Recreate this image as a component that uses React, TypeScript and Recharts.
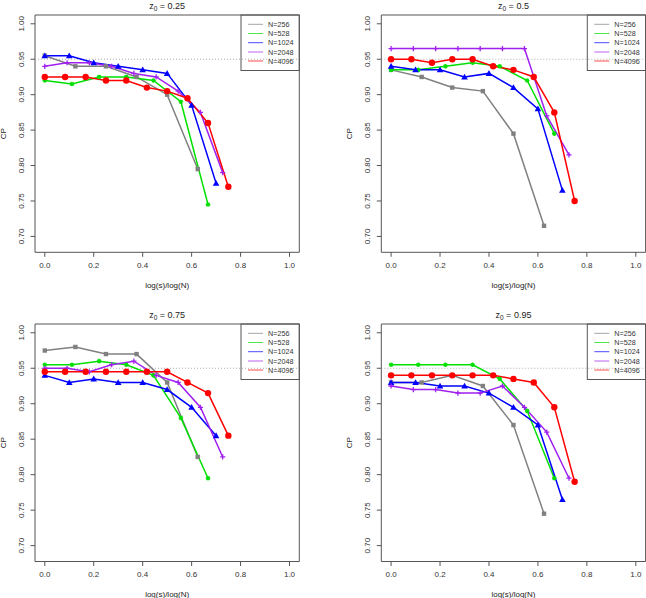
import React from "react";
import { LineChart, Line, XAxis, YAxis, ReferenceArea, ReferenceLine } from "recharts";

const FONT = "'Liberation Sans', Arial, Helvetica, sans-serif";

// x positions: log(s)/log(N)
const X256 = [0, 0.125, 0.25, 0.375, 0.5, 0.625];
const X528 = [0, 0.111, 0.222, 0.333, 0.444, 0.556, 0.667];
const X1024 = [0, 0.1, 0.2, 0.3, 0.4, 0.5, 0.6, 0.7];
const X2048 = [0, 0.091, 0.182, 0.273, 0.364, 0.455, 0.545, 0.636, 0.727];
const X4096 = [0, 0.083, 0.167, 0.25, 0.333, 0.417, 0.5, 0.583, 0.667, 0.75];

// z0 = 0.25
const P1_256 = [0.955, 0.94, 0.94, 0.925, 0.9, 0.795];
const P1_528 = [0.92, 0.915, 0.925, 0.925, 0.92, 0.89, 0.745];
const P1_1024 = [0.955, 0.955, 0.945, 0.94, 0.935, 0.93, 0.885, 0.775];
const P1_2048 = [0.94, 0.945, 0.945, 0.94, 0.93, 0.925, 0.905, 0.875, 0.79];
const P1_4096 = [0.925, 0.925, 0.925, 0.92, 0.92, 0.91, 0.905, 0.895, 0.86, 0.77];

// z0 = 0.5
const P2_256 = [0.935, 0.925, 0.91, 0.905, 0.845, 0.715];
const P2_528 = [0.935, 0.935, 0.94, 0.945, 0.94, 0.92, 0.845];
const P2_1024 = [0.94, 0.935, 0.935, 0.925, 0.93, 0.91, 0.88, 0.765];
const P2_2048 = [0.965, 0.965, 0.965, 0.965, 0.965, 0.965, 0.965, 0.87, 0.815];
const P2_4096 = [0.95, 0.95, 0.945, 0.95, 0.95, 0.94, 0.935, 0.925, 0.875, 0.75];

// z0 = 0.75
const P3_256 = [0.975, 0.98, 0.97, 0.97, 0.93, 0.825];
const P3_528 = [0.955, 0.955, 0.96, 0.955, 0.94, 0.88, 0.795];
const P3_1024 = [0.94, 0.93, 0.935, 0.93, 0.93, 0.92, 0.895, 0.855];
const P3_2048 = [0.95, 0.95, 0.945, 0.955, 0.96, 0.94, 0.93, 0.895, 0.825];
const P3_4096 = [0.945, 0.945, 0.945, 0.945, 0.945, 0.945, 0.945, 0.93, 0.915, 0.855];

// z0 = 0.95
const P4_256 = [0.93, 0.93, 0.94, 0.925, 0.87, 0.745];
const P4_528 = [0.955, 0.955, 0.955, 0.955, 0.935, 0.89, 0.795];
const P4_1024 = [0.93, 0.93, 0.925, 0.925, 0.915, 0.895, 0.87, 0.765];
const P4_2048 = [0.925, 0.92, 0.92, 0.915, 0.915, 0.925, 0.895, 0.86, 0.795];
const P4_4096 = [0.94, 0.94, 0.94, 0.94, 0.94, 0.94, 0.935, 0.93, 0.895, 0.79];

const SERIES_NAMES = ["N=256", "N=528", "N=1024", "N=2048", "N=4096"];
const SERIES_COLORS = ["#808080", "#00e000", "#0000ff", "#a020f0", "#ff0000"];
const SERIES_MARKERS = ["square", "asterisk", "triangle", "plus", "circle"];
const SERIES_X = [X256, X528, X1024, X2048, X4096];

const X_TICKS = [0, 0.2, 0.4, 0.6, 0.8, 1.0];
const Y_TICKS = [0.7, 0.75, 0.8, 0.85, 0.9, 0.95, 1.0];
const X_DOMAIN: [number, number] = [-0.04, 1.04];
const Y_DOMAIN: [number, number] = [0.6776, 1.0124];

const PANELS = [
  { title: "0.25", values: [P1_256, P1_528, P1_1024, P1_2048, P1_4096], left: 0, top: 0, plot: { top: 15, left: 35, right: 23.7, bottom: 46.7 } },
  { title: "0.5", values: [P2_256, P2_528, P2_1024, P2_2048, P2_4096], left: 323, top: 0, plot: { top: 15, left: 58.3, right: 0.4, bottom: 46.7 } },
  { title: "0.75", values: [P3_256, P3_528, P3_1024, P3_2048, P3_4096], left: 0, top: 299, plot: { top: 25, left: 35, right: 23.7, bottom: 36.5 } },
  { title: "0.95", values: [P4_256, P4_528, P4_1024, P4_2048, P4_4096], left: 323, top: 299, plot: { top: 25, left: 58.3, right: 0.4, bottom: 36.5 } },
];

const W = 323;
const H = 299;
const AXW = 20;
const AXH = 20;

const makeDot = (kind: string, color: string) => (p: any) => {
  const { cx, cy, index } = p;
  if (cx == null || cy == null || isNaN(cx) || isNaN(cy)) return <g key={`d${index}`} />;
  if (kind === "square") {
    return <rect key={`d${index}`} x={cx - 2.2} y={cy - 2.2} width={4.4} height={4.4} fill={color} />;
  }
  if (kind === "circle") {
    return <circle key={`d${index}`} cx={cx} cy={cy} r={3.2} fill={color} />;
  }
  if (kind === "triangle") {
    const s = 3.3;
    return <path key={`d${index}`} d={`M${cx},${cy - s} L${cx + s},${cy + s * 0.75} L${cx - s},${cy + s * 0.75} Z`} fill={color} />;
  }
  if (kind === "plus") {
    const s = 2.6;
    return <path key={`d${index}`} d={`M${cx - s},${cy} L${cx + s},${cy} M${cx},${cy - s} L${cx},${cy + s}`} stroke={color} strokeWidth={1.3} fill="none" />;
  }
  const s = 2.3;
  const d = s * 0.72;
  return (
    <path
      key={`d${index}`}
      d={`M${cx - s},${cy} L${cx + s},${cy} M${cx},${cy - s} L${cx},${cy + s} M${cx - d},${cy - d} L${cx + d},${cy + d} M${cx - d},${cy + d} L${cx + d},${cy - d}`}
      stroke={color}
      strokeWidth={1.2}
      fill="none"
    />
  );
};

function Panel({ panel }: { panel: (typeof PANELS)[number] }) {
  const pm = panel.plot;
  const plotLeft = pm.left;
  const plotRight = W - pm.right;
  const plotTop = pm.top;
  const plotBottom = H - pm.bottom;
  const cx = (plotLeft + plotRight) / 2;
  const cy = (plotTop + plotBottom) / 2;
  const margin = { top: pm.top, right: pm.right, left: pm.left - AXW, bottom: pm.bottom - AXH };

  const XTick = (p: any) => (
    <g>
      <line x1={p.x} x2={p.x} y1={plotBottom} y2={plotBottom + 4.5} stroke="#555" strokeWidth={1} />
      <text x={p.x} y={plotBottom + 12.7} textAnchor="middle" dominantBaseline="central" fontSize={8} fontFamily={FONT} fill="#333">
        {Number(p.payload.value).toFixed(1)}
      </text>
    </g>
  );
  const YTick = (p: any) => (
    <g>
      <line x1={plotLeft - 4.5} x2={plotLeft} y1={p.y} y2={p.y} stroke="#555" strokeWidth={1} />
      <text
        x={plotLeft - 13.5}
        y={p.y}
        textAnchor="middle"
        dominantBaseline="central"
        fontSize={8}
        fontFamily={FONT}
        fill="#333"
        transform={`rotate(-90, ${plotLeft - 13.5}, ${p.y})`}
      >
        {Number(p.payload.value).toFixed(2)}
      </text>
    </g>
  );

  const legW = 58.3;
  const legX = plotRight - legW;
  const legY = plotTop;
  const rowY = [9.3, 18.5, 27.7, 37, 46];

  return (
    <div style={{ position: "absolute", left: panel.left, top: panel.top, width: W, height: H }}>
      <LineChart width={W} height={H} margin={margin}>
        <XAxis
          type="number"
          dataKey="x"
          domain={X_DOMAIN}
          ticks={X_TICKS}
          allowDataOverflow
          height={AXH}
          axisLine={false}
          tickLine={false}
          tick={XTick}
          interval={0}
        />
        <YAxis
          type="number"
          dataKey="y"
          domain={Y_DOMAIN}
          ticks={Y_TICKS}
          allowDataOverflow
          width={AXW}
          axisLine={false}
          tickLine={false}
          tick={YTick}
          interval={0}
        />
        <ReferenceArea x1={X_DOMAIN[0]} x2={X_DOMAIN[1]} y1={Y_DOMAIN[0]} y2={Y_DOMAIN[1]} fill="none" stroke="#555" strokeWidth={1} ifOverflow="visible" />
        <ReferenceLine y={0.95} stroke="#999" strokeDasharray="1 2" strokeWidth={0.8} />
        {panel.values.map((vals, i) => (
          <Line
            key={SERIES_NAMES[i]}
            data={SERIES_X[i].map((x, j) => ({ x, y: vals[j] }))}
            dataKey="y"
            type="linear"
            stroke={SERIES_COLORS[i]}
            strokeWidth={1.5}
            dot={makeDot(SERIES_MARKERS[i], SERIES_COLORS[i])}
            activeDot={false}
            isAnimationActive={false}
          />
        ))}
      </LineChart>
      <svg width={W} height={H} style={{ position: "absolute", left: 0, top: 0, pointerEvents: "none", overflow: "visible" }}>
        <text x={cx} y={plotTop - 9.5} textAnchor="middle" dominantBaseline="central" fontSize={9} fontFamily={FONT} fill="#222">
          z<tspan fontSize={6.5} dy={2}>0</tspan>
          <tspan dy={-2}> = {panel.title}</tspan>
        </text>
        <text x={cx} y={plotBottom + 32.7} textAnchor="middle" dominantBaseline="central" fontSize={8} fontFamily={FONT} fill="#222">
          log(s)/log(N)
        </text>
        <text
          x={plotLeft - 31.6}
          y={cy}
          textAnchor="middle"
          dominantBaseline="central"
          fontSize={8}
          fontFamily={FONT}
          fill="#222"
          transform={`rotate(-90, ${plotLeft - 31.6}, ${cy})`}
        >
          CP
        </text>
        <rect x={legX} y={legY} width={legW} height={55.5} fill="none" stroke="#555" strokeWidth={1} />
        {SERIES_NAMES.map((name, i) => (
          <g key={name}>
            <line x1={legX + 7} x2={legX + 22} y1={legY + rowY[i]} y2={legY + rowY[i]} stroke={SERIES_COLORS[i]} strokeWidth={1} opacity={0.7} />
            <text x={legX + 27} y={legY + rowY[i]} dominantBaseline="central" fontSize={7.2} fontFamily={FONT} fill="#333">
              {name}
            </text>
          </g>
        ))}
      </svg>
    </div>
  );
}

export default function App() {
  return (
    <div style={{ position: "absolute", left: 0, top: 0, width: 646, height: 598, overflow: "hidden", background: "#fff" }}>
      {PANELS.map((p) => (
        <Panel key={p.title} panel={p} />
      ))}
    </div>
  );
}
